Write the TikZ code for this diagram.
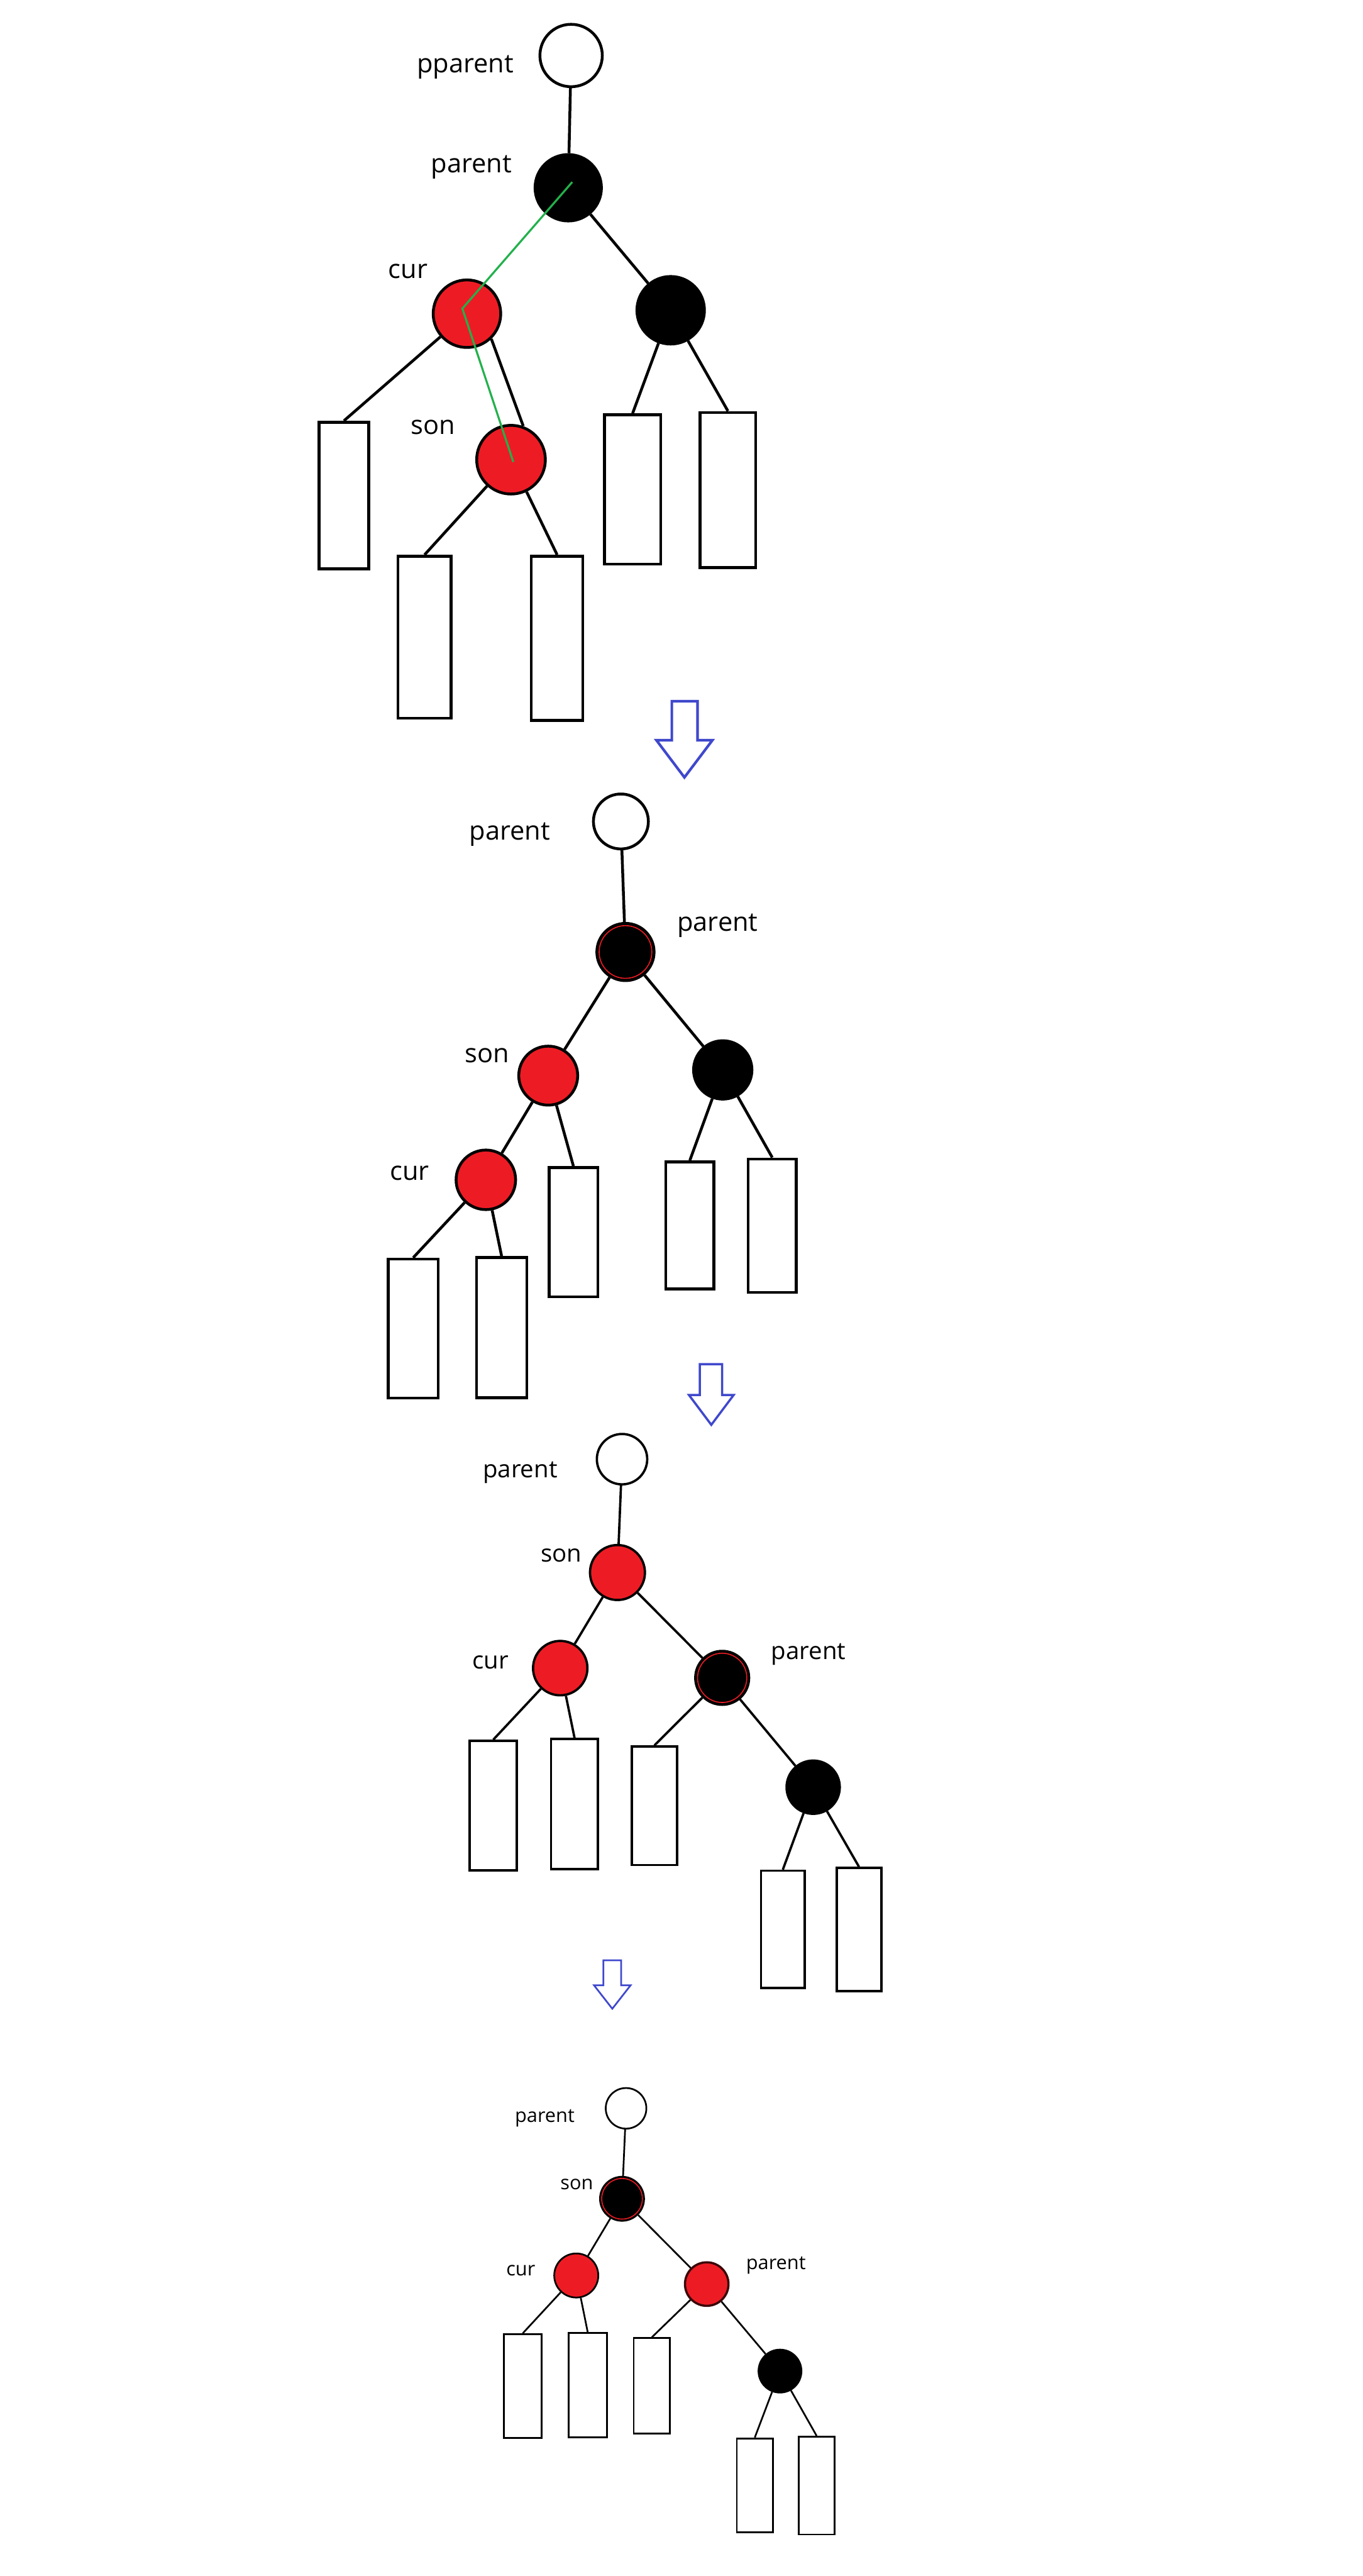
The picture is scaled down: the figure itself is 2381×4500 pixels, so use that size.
\documentclass[tikz,border=0pt]{standalone}
\usepackage{fontspec}
\setmainfont{Open Sans}
\definecolor{pred}{HTML}{ED1C24}
\definecolor{pgreen}{HTML}{22B14C}
\definecolor{pblue}{HTML}{3F48CC}
\tikzset{
  cnode/.style={circle, inner sep=0pt, minimum size=#1*0.01cm},
  wnode/.style={cnode=#1, draw=black, fill=white},
  bnode/.style={cnode=#1, draw=black, fill=black},
  rnode/.style={cnode=#1, draw=black, fill=pred},
  brnode/.style 2 args={bnode=#1, path picture={\draw[pred, line width=0.5pt] (path picture bounding box.center) circle[radius=#2];}},
  leafbox/.style 2 args={rectangle, draw=black, fill=white, inner sep=0pt, minimum width=#1*0.01cm, minimum height=#2*0.01cm},
  edge/.style={draw=black},
  lbl/.style={anchor=base, inner sep=0pt},
  bigarrow/.style={draw=pblue, line join=miter, fill=white},
}
\begin{document}
\begin{tikzpicture}[x=0.01cm, y=-0.01cm]
\useasboundingbox[fill=white] (0,0) rectangle (2381,4500);

% ---------------- Tree 1 ----------------
\begin{scope}[line width=1.4pt, lbl/.append style={font=\fontsize{13}{15}\selectfont}]
\node[wnode=109] (T1pp) at (998,97) {};
\node[bnode=116] (T1p) at (993,328) {};
\node[rnode=118] (T1c) at (816,548) {};
\node[bnode=118] (T1r) at (1172,542) {};
\node[rnode=120] (T1s) at (893,803) {};
\node[leafbox={87}{256}] (A1) at (601,865.5) {};
\node[leafbox={93}{283}] (A2) at (742,1113) {};
\node[leafbox={90}{287}] (A3) at (973.5,1115) {};
\node[leafbox={98}{261}] (A4) at (1105.5,855) {};
\node[leafbox={97}{271}] (A5) at (1272,856) {};
\node[lbl] (L1a) at (813,127) {pparent};
\node[lbl] (L1b) at (824,302) {parent};
\node[lbl] (L1c) at (713,486) {cur};
\node[lbl] (L1d) at (757,759) {son};
\draw[edge] (T1pp) -- (T1p);
\draw[edge] (T1p) -- (T1r);
\draw[edge] (T1c) -- (A1.north);
\draw[edge] (T1c.-46) -- (T1s.70);
\draw[edge] (T1s) -- (A2.north);
\draw[edge] (T1s) -- (A3.north);
\draw[edge] (T1r) -- (A4.north);
\draw[edge] (T1r) -- (A5.north);
\draw[pgreen, line width=1pt] ([shift={(7,-10)}]T1p.center) -- ([shift={(-8,-9)}]T1c.center) -- ([shift={(4,4)}]T1s.center);
\end{scope}

% arrow 1
\draw[bigarrow, line width=1.3pt] (1174,1225) -- (1219,1225) -- (1219,1293) -- (1245,1293) -- (1196,1358) -- (1147,1293) -- (1174,1293) -- cycle;

% ---------------- Tree 2 ----------------
\begin{scope}[line width=1.4pt, lbl/.append style={font=\fontsize{13}{15}\selectfont}]
\node[wnode=96] (T2pp) at (1085,1435) {};
\node[brnode={100}{0.46cm}] (T2p) at (1093,1663) {};
\node[rnode=103] (T2s) at (958,1879) {};
\node[bnode=102] (T2r) at (1263,1869) {};
\node[rnode=104] (T2c) at (849,2061) {};
\node[leafbox={87}{243}] (B1) at (722,2321) {};
\node[leafbox={88}{245}] (B2) at (876.5,2319) {};
\node[leafbox={85}{226}] (B3) at (1002,2152.5) {};
\node[leafbox={84}{222}] (B4) at (1205.5,2140.5) {};
\node[leafbox={84}{233}] (B5) at (1349.5,2141) {};
\node[lbl] (L2a) at (891,1467) {parent};
\node[lbl] (L2b) at (1254,1626) {parent};
\node[lbl] (L2c) at (851,1856) {son};
\node[lbl] (L2d) at (716,2062) {cur};
\draw[edge] (T2pp) -- (T2p);
\draw[edge] (T2p) -- (T2s);
\draw[edge] (T2p) -- (T2r);
\draw[edge] (T2s) -- (T2c);
\draw[edge] (T2s) -- (B3.north);
\draw[edge] (T2c) -- (B1.north);
\draw[edge] (T2c) -- (B2.north);
\draw[edge] (T2r) -- (B4.north);
\draw[edge] (T2r) -- (B5.north);
\end{scope}

% arrow 2
\draw[bigarrow, line width=1.1pt] (1223,2383) -- (1262,2383) -- (1262,2437) -- (1282,2437) -- (1243,2489) -- (1204,2437) -- (1223,2437) -- cycle;

% ---------------- Tree 3 ----------------
\begin{scope}[line width=1.15pt, lbl/.append style={font=\fontsize{12}{14}\selectfont}]
\node[wnode=88] (T3pp) at (1087,2549) {};
\node[rnode=96] (T3s) at (1079,2747) {};
\node[rnode=95] (T3c) at (979,2914) {};
\node[brnode={94}{0.43cm}] (T3p) at (1262,2931) {};
\node[bnode=93] (T3b) at (1421,3122) {};
\node[leafbox={82}{226}] (C1) at (862,3154) {};
\node[leafbox={82}{227}] (C2) at (1004,3151.5) {};
\node[leafbox={79}{207}] (C3) at (1143.5,3154.5) {};
\node[leafbox={76}{205}] (C4) at (1368,3370.5) {};
\node[leafbox={78}{215}] (C5) at (1501,3370.5) {};
\node[lbl] (L3a) at (909,2581) {parent};
\node[lbl] (L3b) at (981,2728) {son};
\node[lbl] (L3c) at (857,2915) {cur};
\node[lbl] (L3d) at (1413,2899) {parent};
\draw[edge] (T3pp) -- (T3s);
\draw[edge] (T3s) -- (T3c);
\draw[edge] (T3s) -- (T3p);
\draw[edge] (T3c) -- (C1.north);
\draw[edge] (T3c) -- (C2.north);
\draw[edge] (T3p) -- (C3.north);
\draw[edge] (T3p) -- (T3b);
\draw[edge] (T3b) -- (C4.north);
\draw[edge] (T3b) -- (C5.north);
\end{scope}

% arrow 3
\draw[bigarrow, line width=0.85pt] (1054.5,3424.5) -- (1085.5,3424.5) -- (1085.5,3468) -- (1102,3468) -- (1070,3509) -- (1038,3468) -- (1054.5,3468) -- cycle;

% ---------------- Tree 4 ----------------
\begin{scope}[line width=0.85pt, lbl/.append style={font=\fontsize{9.6}{11}\selectfont}]
\node[wnode=71] (T4pp) at (1094,3683) {};
\node[brnode={77}{0.355cm}] (T4s) at (1087,3841) {};
\node[rnode=77] (T4c) at (1007,3975) {};
\node[rnode=76, draw=black!75!pred, line width=1.1pt] (T4p) at (1235,3990) {};
\node[bnode=75] (T4b) at (1363,4142) {};
\node[leafbox={66}{181}] (D1) at (913.5,4168) {};
\node[leafbox={67}{182}] (D2) at (1027,4166.5) {};
\node[leafbox={63}{167}] (D3) at (1139,4168) {};
\node[leafbox={63}{164}] (D4) at (1319,4341.5) {};
\node[leafbox={63}{171}] (D5) at (1427,4342) {};
\node[lbl] (L4a) at (952,3707) {parent};
\node[lbl] (L4b) at (1008,3825) {son};
\node[lbl] (L4c) at (910,3975) {cur};
\node[lbl] (L4d) at (1356,3964) {parent};
\draw[edge] (T4pp) -- (T4s);
\draw[edge] (T4s) -- (T4c);
\draw[edge] (T4s) -- (T4p);
\draw[edge] (T4c) -- (D1.north);
\draw[edge] (T4c) -- (D2.north);
\draw[edge] (T4p) -- (D3.north);
\draw[edge] (T4p) -- (T4b);
\draw[edge] (T4b) -- (D4.north);
\draw[edge] (T4b) -- (D5.north);
\end{scope}
\end{tikzpicture}
\end{document}
